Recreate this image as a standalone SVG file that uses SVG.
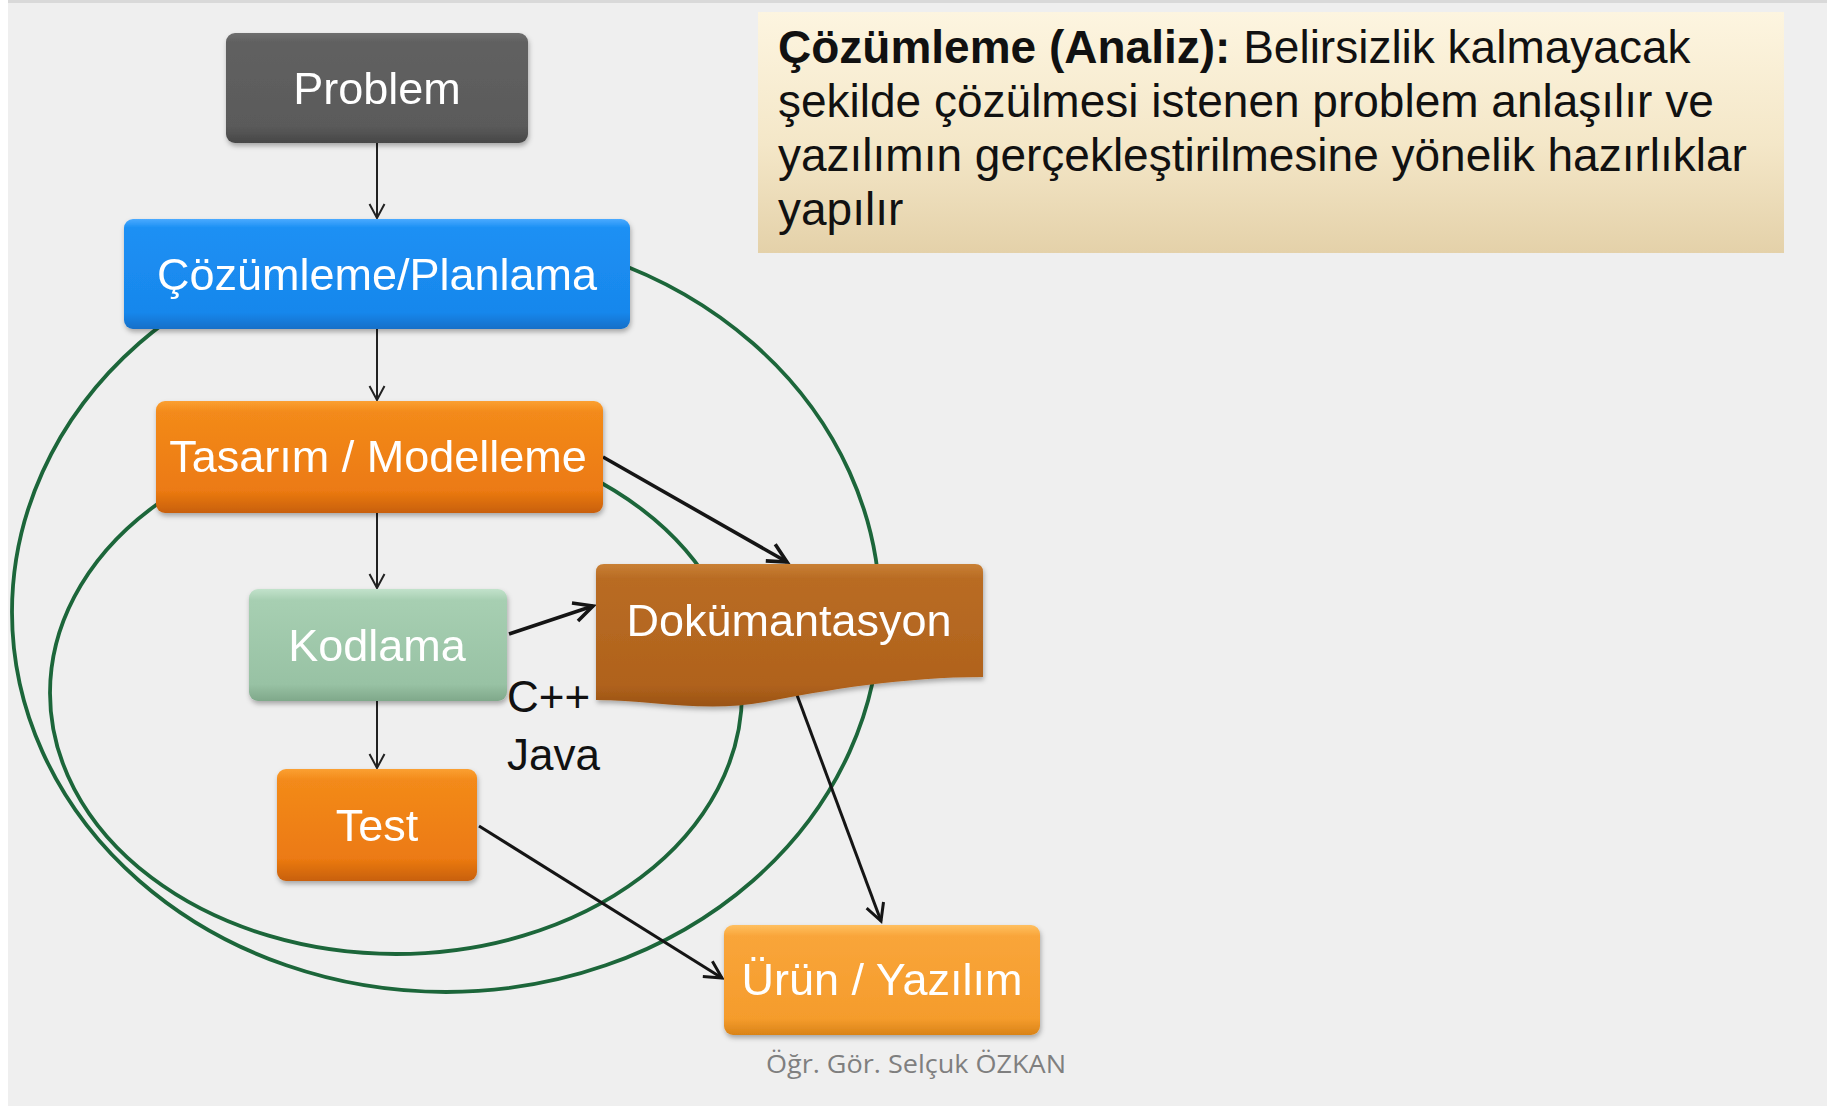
<svg xmlns="http://www.w3.org/2000/svg" width="1835" height="1106" viewBox="0 0 1835 1106">
  <defs>
    <style>
      .lbl { font-family: "Liberation Sans", Arial, sans-serif; font-size: 45px; fill: #ffffff; text-anchor: middle; }
      .note { font-family: "Liberation Sans", Arial, sans-serif; font-size: 46px; fill: #111111; }
      .lang { font-family: "Liberation Sans", Arial, sans-serif; font-size: 44px; fill: #111111; }
      .foot { font-family: "Open Sans", "Noto Sans", sans-serif; font-size: 26px; fill: #7f7f7f; }
      .loop { fill: none; stroke: #1c663a; stroke-width: 3.8; }
      .flow { fill: none; stroke: #222222; stroke-width: 2; marker-end: url(#headThin); }
      .flowBold { fill: none; stroke: #151515; stroke-width: 3.6; marker-end: url(#headBold); }
      .flowMid { fill: none; stroke: #151515; stroke-width: 3; marker-end: url(#headMid); }
    </style>
    <linearGradient id="gGray" x1="0" y1="0" x2="0" y2="1">
      <stop offset="0" stop-color="#6e6e6e"/>
      <stop offset="0.08" stop-color="#616161"/>
      <stop offset="0.85" stop-color="#5a5a5a"/>
      <stop offset="1" stop-color="#474747"/>
    </linearGradient>
    <linearGradient id="gBlue" x1="0" y1="0" x2="0" y2="1">
      <stop offset="0" stop-color="#4aaaff"/>
      <stop offset="0.08" stop-color="#1c90f4"/>
      <stop offset="0.85" stop-color="#1887ec"/>
      <stop offset="1" stop-color="#126fc8"/>
    </linearGradient>
    <linearGradient id="gOrange" x1="0" y1="0" x2="0" y2="1">
      <stop offset="0" stop-color="#fba032"/>
      <stop offset="0.1" stop-color="#f38a1a"/>
      <stop offset="0.8" stop-color="#ec7a12"/>
      <stop offset="1" stop-color="#c8600a"/>
    </linearGradient>
    <linearGradient id="gGreen" x1="0" y1="0" x2="0" y2="1">
      <stop offset="0" stop-color="#c2e2cb"/>
      <stop offset="0.1" stop-color="#a7cfb2"/>
      <stop offset="0.85" stop-color="#98c2a4"/>
      <stop offset="1" stop-color="#7fa88a"/>
    </linearGradient>
    <linearGradient id="gBrown" x1="0" y1="0" x2="0" y2="1">
      <stop offset="0" stop-color="#c98035"/>
      <stop offset="0.1" stop-color="#b96c24"/>
      <stop offset="0.85" stop-color="#b0621c"/>
      <stop offset="1" stop-color="#9a5314"/>
    </linearGradient>
    <linearGradient id="gAmber" x1="0" y1="0" x2="0" y2="1">
      <stop offset="0" stop-color="#ffc060"/>
      <stop offset="0.1" stop-color="#f9a53a"/>
      <stop offset="0.85" stop-color="#f59c2c"/>
      <stop offset="1" stop-color="#d98318"/>
    </linearGradient>
    <linearGradient id="gNote" x1="0" y1="0" x2="0" y2="1">
      <stop offset="0" stop-color="#fdf5e0"/>
      <stop offset="0.55" stop-color="#f4e7c8"/>
      <stop offset="1" stop-color="#e4d1a9"/>
    </linearGradient>
    <filter id="shadow" x="-10%" y="-10%" width="120%" height="130%">
      <feDropShadow dx="1" dy="3" stdDeviation="2.5" flood-color="#000000" flood-opacity="0.3"/>
    </filter>
    <marker id="headThin" markerUnits="userSpaceOnUse" markerWidth="18" markerHeight="18" viewBox="0 0 18 18" refX="16" refY="9" orient="auto">
      <path d="M2,1.5 L16,9 L2,16.5" fill="none" stroke="#222222" stroke-width="2"/>
    </marker>
    <marker id="headMid" markerUnits="userSpaceOnUse" markerWidth="24" markerHeight="24" viewBox="0 0 24 24" refX="20" refY="12" orient="auto">
      <path d="M3,3 L20,12 L3,21" fill="none" stroke="#151515" stroke-width="3"/>
    </marker>
    <marker id="headBold" markerUnits="userSpaceOnUse" markerWidth="26" markerHeight="26" viewBox="0 0 26 26" refX="22" refY="13" orient="auto">
      <path d="M3,3.5 L22,13 L3,22.5" fill="none" stroke="#151515" stroke-width="3.6"/>
    </marker>
  </defs>

  <!-- page -->
  <rect x="0" y="0" width="1835" height="1106" fill="#ffffff"/>
  <rect x="8" y="0" width="1819" height="1106" fill="#efefef"/>
  <rect x="8" y="0" width="1819" height="3" fill="#d9d9d9"/>

  <!-- iteration loops -->
  <g id="loops">
    <ellipse class="loop" cx="446" cy="612" rx="434" ry="380"/>
    <ellipse class="loop" cx="396" cy="693" rx="346" ry="261"/>
  </g>

  <!-- connectors -->
  <g id="connectors">
    <line class="flow" x1="377" y1="143" x2="377" y2="218"/>
    <line class="flow" x1="377" y1="329" x2="377" y2="400"/>
    <line class="flow" x1="377" y1="513" x2="377" y2="588"/>
    <line class="flow" x1="377" y1="701" x2="377" y2="768"/>
    <line class="flowBold" x1="603" y1="457" x2="787" y2="562"/>
    <line class="flowBold" x1="509" y1="634" x2="593" y2="606"/>
    <line class="flowMid" x1="797" y1="695" x2="881" y2="921"/>
    <line class="flowMid" x1="479" y1="826" x2="722" y2="978"/>
  </g>

  <g id="problem" filter="url(#shadow)">
    <rect x="226" y="33" width="302" height="110" rx="9" fill="url(#gGray)"/>
    <text class="lbl" x="377" y="104">Problem</text>
  </g>

  <g id="cozumleme" filter="url(#shadow)">
    <rect x="124" y="219" width="506" height="110" rx="9" fill="url(#gBlue)"/>
    <text class="lbl" x="377" y="290">Çözümleme/Planlama</text>
  </g>

  <g id="tasarim" filter="url(#shadow)">
    <rect x="156" y="401" width="447" height="112" rx="9" fill="url(#gOrange)"/>
    <text class="lbl" x="378" y="472">Tasarım / Modelleme</text>
  </g>

  <g id="kodlama" filter="url(#shadow)">
    <rect x="249" y="589" width="258" height="112" rx="9" fill="url(#gGreen)"/>
    <text class="lbl" x="377" y="661">Kodlama</text>
  </g>

  <g id="test" filter="url(#shadow)">
    <rect x="277" y="769" width="200" height="112" rx="9" fill="url(#gOrange)"/>
    <text class="lbl" x="377" y="841">Test</text>
  </g>

  <g id="dokumantasyon" filter="url(#shadow)">
    <path d="M604,564 H975 Q983,564 983,572 V677 C905,677 825,690 765,702 C705,713 650,700 596,700 V572 Q596,564 604,564 Z" fill="url(#gBrown)"/>
    <text class="lbl" x="789" y="636">Dokümantasyon</text>
  </g>

  <g id="urun" filter="url(#shadow)">
    <rect x="724" y="925" width="316" height="110" rx="9" fill="url(#gAmber)"/>
    <text class="lbl" x="882" y="995">Ürün / Yazılım</text>
  </g>

  <g id="languages">
    <text class="lang" x="507" y="712">C++</text>
    <text class="lang" x="507" y="770">Java</text>
  </g>

  <g id="note">
    <rect x="758" y="12" width="1026" height="241" fill="url(#gNote)"/>
    <text class="note" x="778" y="63"><tspan font-weight="bold">Çözümleme (Analiz):</tspan> Belirsizlik kalmayacak</text>
    <text class="note" x="778" y="117">şekilde çözülmesi istenen problem anlaşılır ve</text>
    <text class="note" x="778" y="171">yazılımın gerçekleştirilmesine yönelik hazırlıklar</text>
    <text class="note" x="778" y="225">yapılır</text>
  </g>

  <text class="foot" x="766" y="1073" textLength="300" lengthAdjust="spacingAndGlyphs">Öğr. Gör. Selçuk ÖZKAN</text>
</svg>
